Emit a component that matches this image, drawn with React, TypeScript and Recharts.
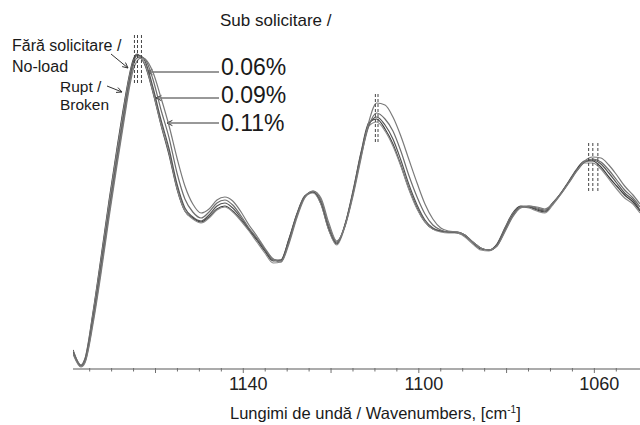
import React from 'react';
import { LineChart, Line, XAxis, YAxis, ReferenceLine, Customized } from 'recharts';

// wavenumbers (cm-1), spectrum sampled every ~1.8 cm-1
const wavenumbers = [
  1178.8, 1177.0, 1176.1, 1174.2, 1172.4, 1170.6, 1168.8, 1167.0, 1166.0, 1165.1, 1164.2, 1163.3, 1162.4,
  1160.6, 1158.8, 1156.9, 1155.1, 1153.3, 1151.5, 1149.6, 1147.8, 1146.0, 1144.2,
  1142.4, 1140.5, 1138.7, 1136.9, 1135.1, 1133.2, 1131.4, 1129.6, 1127.8, 1126.0,
  1124.1, 1122.3, 1120.5, 1118.7, 1116.8, 1115.0, 1113.2, 1111.4, 1109.6, 1107.7,
  1105.9, 1104.1, 1102.3, 1100.4, 1098.6, 1096.8, 1095.0, 1093.2, 1091.3, 1089.5,
  1087.7, 1085.9, 1084.0, 1082.2, 1080.4, 1078.6, 1076.8, 1074.9, 1073.1, 1071.3,
  1069.5, 1067.6, 1065.8, 1064.0, 1062.2, 1060.4, 1058.5, 1056.7, 1054.9, 1053.1,
  1051.2, 1049.6,
];

// absorbance, arbitrary units
const noLoad = [
  19, 4, 10, 58, 112, 168, 220, 269, 293, 309, 315, 311, 304,
  277, 245, 214, 180, 158, 151, 147, 152, 160, 163,
  158, 149, 139, 129, 118, 108, 109, 130, 155, 173,
  177, 165, 139, 125, 145, 178, 216, 246, 250, 240,
  225, 204, 181, 161, 147, 140, 138, 137, 136, 133,
  126, 120, 119, 125, 141, 156, 163, 162, 159, 157,
  165, 176, 188, 200, 208, 208, 202, 192, 183, 174,
  167, 158,
];
const broken = [
  18, 4, 9, 56, 109, 165, 217, 266, 291, 307, 313, 311, 305,
  278, 246, 216, 181, 158, 150, 146, 151, 159, 162,
  157, 148, 138, 127, 116, 106, 107, 128, 154, 172,
  176, 165, 139, 124, 143, 176, 214, 243, 247, 238,
  223, 203, 180, 160, 147, 140, 137, 136, 136, 132,
  125, 119, 118, 124, 140, 155, 162, 161, 158, 156,
  164, 175, 187, 199, 206, 206, 200, 190, 180, 171,
  165, 156,
];
const load006 = [
  17, 3, 8, 52, 104, 159, 211, 261, 287, 306, 314, 313, 308,
  282, 250, 220, 185, 161, 152, 148, 154, 163, 166,
  161, 151, 140, 130, 119, 109, 109, 129, 154, 172,
  177, 167, 141, 126, 144, 176, 214, 244, 252, 244,
  230, 209, 185, 164, 149, 141, 138, 137, 137, 134,
  127, 121, 119, 124, 139, 154, 162, 162, 160, 158,
  166, 176, 187, 199, 207, 209, 205, 196, 186, 176,
  169, 159,
];
const load009 = [
  16, 3, 7, 49, 100, 155, 207, 257, 284, 303, 311, 312, 310,
  290, 260, 231, 196, 170, 157, 151, 157, 166, 169,
  164, 153, 141, 131, 120, 110, 108, 127, 153, 172,
  178, 169, 143, 127, 144, 175, 212, 243, 256, 250,
  238, 218, 194, 172, 155, 144, 139, 137, 137, 134,
  127, 121, 119, 123, 138, 153, 162, 163, 161, 159,
  166, 176, 187, 198, 207, 210, 207, 199, 189, 179,
  171, 162,
];
const load011 = [
  15, 2, 6, 46, 96, 151, 203, 253, 280, 299, 308, 311, 310,
  297, 272, 243, 211, 183, 165, 156, 160, 169, 172,
  168, 157, 144, 133, 121, 110, 107, 125, 151, 171,
  178, 171, 146, 128, 143, 173, 210, 247, 266, 264,
  252, 233, 210, 186, 165, 150, 141, 138, 137, 134,
  127, 121, 119, 123, 137, 152, 161, 163, 162, 160,
  165, 175, 186, 198, 208, 212, 211, 204, 194, 183,
  174, 165,
];

const tickMarks = [
  1175, 1170, 1165, 1160, 1155, 1150, 1145, 1140, 1135, 1130, 1125, 1120, 1115,
  1110, 1105, 1100, 1095, 1090, 1085, 1080, 1075, 1070, 1065, 1060, 1055,
];
const majorTicks = [1160, 1140, 1120, 1100, 1080, 1060];
const tickLabels = [1140, 1100, 1060];

// dashed band-position markers
const bandMarkers = [
  { lines: [1164.8, 1164.1, 1163.2], lo: 286, hi: 334 },
  { lines: [1109.9, 1109.3], lo: 227, hi: 277 },
  { lines: [1061.3, 1060.35, 1059.2], lo: 178, hi: 227 },
];

const data = wavenumbers.map((wn, i) => ({
  wn,
  noLoad: noLoad[i],
  broken: broken[i],
  load006: load006[i],
  load009: load009[i],
  load011: load011[i],
}));

const FONT = '"Liberation Sans", Arial, Helvetica, sans-serif';

const WnTick = (props: any) => {
  const { x, y, payload } = props;
  const v = payload.value;
  const major = majorTicks.includes(v);
  return (
    <g>
      <line x1={x} x2={x} y1={y - 1} y2={y + (major ? 4 : 2.5)} stroke="#6f6f6f" strokeWidth={1} />
      {tickLabels.includes(v) && (
        <text x={x + 5} y={y + 21} textAnchor="middle" fontSize={18} fill="#222" fontFamily={FONT}>
          {v}
        </text>
      )}
    </g>
  );
};

const Arrow = ({ x1, y1, x2, y2 }: { x1: number; y1: number; x2: number; y2: number }) => {
  const a = Math.atan2(y2 - y1, x2 - x1);
  const len = 6;
  const spread = 0.45;
  const p1 = `${x2 - len * Math.cos(a - spread)},${y2 - len * Math.sin(a - spread)}`;
  const p2 = `${x2 - len * Math.cos(a + spread)},${y2 - len * Math.sin(a + spread)}`;
  return (
    <g stroke="#333" strokeWidth={1} fill="none">
      <line x1={x1} y1={y1} x2={x2} y2={y2} />
      <polyline points={`${p1} ${x2},${y2} ${p2}`} />
    </g>
  );
};

const Annotations = () => (
  <g fontFamily={FONT} fill="#1a1a1a">
    <text x={220} y={26} fontSize={17}>Sub solicitare /</text>
    <text x={12} y={51} fontSize={16}>Fără solicitare /</text>
    <text x={12} y={72} fontSize={16}>No-load</text>
    <text x={60} y={92} fontSize={15.5}>Rupt /</text>
    <text x={60} y={110} fontSize={15.5}>Broken</text>
    <Arrow x1={111} y1={54} x2={128} y2={68} />
    <Arrow x1={107} y1={86} x2={122} y2={92} />
    <text x={221} y={75} fontSize={23}>0.06%</text>
    <text x={221} y={103} fontSize={23}>0.09%</text>
    <text x={221} y={131} fontSize={23}>0.11%</text>
    <Arrow x1={219} y1={72} x2={147} y2={72} />
    <Arrow x1={219} y1={98} x2={156} y2={98} />
    <Arrow x1={219} y1={123} x2={167} y2={123} />
    <text x={230} y={419} fontSize={16.5}>
      Lungimi de undă / Wavenumbers, [cm
      <tspan dy={-6} fontSize={10}>-1</tspan>
      <tspan dy={6}>]</tspan>
    </text>
  </g>
);

const series = [
  { key: 'noLoad', color: '#3c3c3c' },
  { key: 'broken', color: '#8c8c8c' },
  { key: 'load006', color: '#555555' },
  { key: 'load009', color: '#6e6e6e' },
  { key: 'load011', color: '#7a7a7a' },
];

export default function App() {
  return (
    <div style={{ position: 'absolute', left: 0, top: 0, width: 640, height: 425, background: '#fff' }}>
      <LineChart width={640} height={425} data={data} margin={{ top: 29, right: 0, left: 73, bottom: 0 }}>
        <XAxis
          dataKey="wn"
          type="number"
          domain={[1049.6, 1178.8]}
          reversed
          allowDataOverflow
          ticks={tickMarks}
          interval={0}
          tick={WnTick}
          tickLine={false}
          tickSize={0}
          tickMargin={0}
          height={56}
          axisLine={{ stroke: '#ababab', strokeWidth: 2 }}
        />
        <YAxis hide type="number" domain={[0, 340]} allowDataOverflow />
        {series.map((s) => (
          <Line
            key={s.key}
            dataKey={s.key}
            type="monotone"
            stroke={s.color}
            strokeWidth={1.2}
            dot={false}
            activeDot={false}
            isAnimationActive={false}
          />
        ))}
        {bandMarkers.map((m, gi) =>
          m.lines.map((wn, li) => (
            <ReferenceLine
              key={`${gi}-${li}`}
              segment={[{ x: wn, y: m.lo }, { x: wn, y: m.hi }]}
              stroke="#444"
              strokeWidth={1}
              strokeDasharray="3 2"
              ifOverflow="visible"
            />
          ))
        )}
        <Customized component={Annotations} />
      </LineChart>
    </div>
  );
}
